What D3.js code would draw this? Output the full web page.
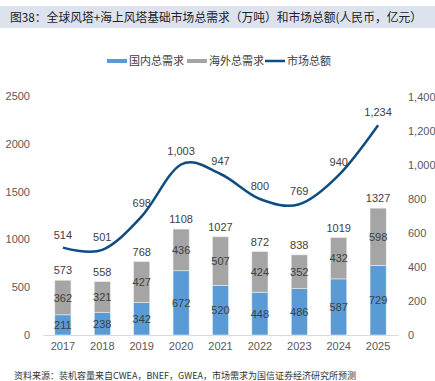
<!DOCTYPE html>
<html><head><meta charset="utf-8">
<script src="https://cdn.jsdelivr.net/npm/d3@7"></script>
<style>body{margin:0;background:#fff;}svg{display:block;font-family:"Noto Sans CJK SC","Liberation Sans",Arial,sans-serif;}</style>
</head><body>
<script>
const years = ["2017","2018","2019","2020","2021","2022","2023","2024","2025"];
const domestic = [211,238,342,672,520,448,486,587,729];
const overseas = [362,321,427,436,507,424,352,432,598];
const totals = [573,558,768,1108,1027,872,838,1019,1327];
const market = [514,501,698,1003,947,800,769,940,1234];
const leftTicks = [0,500,1000,1500,2000,2500];
const rightTicks = [0,200,400,600,800,1000,1200,1400];

const W=435,H=381;
const svg=d3.select("body").append("svg").attr("width",W).attr("height",H);
svg.append("rect").attr("x",0).attr("y",6).attr("width",W).attr("height",22).attr("fill","#dce3ef");
svg.append("text").attr("x",10).attr("y",22).attr("font-size",12).attr("fill","#222")
  .attr("textLength",412).attr("lengthAdjust","spacingAndGlyphs")
  .text("图38：全球风塔+海上风塔基础市场总需求（万吨）和市场总额(人民币，亿元）");

const x=d3.scaleBand().domain(years).range([43,398]).paddingInner(0.59).paddingOuter(0.3);
const yL=d3.scaleLinear().domain([0,2500]).range([335,96]);
const yR=d3.scaleLinear().domain([0,1400]).range([335,97]);
const axisCol="#595959";

// axes
const gl=svg.append("g").attr("transform","translate(32,0)").call(d3.axisLeft(yL).tickValues(leftTicks).tickSize(0).tickPadding(2).tickFormat(d3.format("d")));
const gr=svg.append("g").attr("transform","translate(406,0)").call(d3.axisRight(yR).tickValues(rightTicks).tickSize(0).tickPadding(2).tickFormat(d3.format(",")));
const gx=svg.append("g").attr("transform","translate(0,335)").call(d3.axisBottom(x).tickSize(0).tickPadding(7));
[gl,gr].forEach(g=>g.select(".domain").remove());
gx.select(".domain").attr("stroke","#d9d9d9").attr("stroke-width",1);
svg.selectAll(".tick text").attr("fill",axisCol).attr("font-size",11).attr("font-family","Liberation Sans, Arial, sans-serif");

// bars
const bw=x.bandwidth();
years.forEach((yr,i)=>{
  const x0=x(yr);
  svg.append("rect").attr("x",x0).attr("width",bw).attr("y",yL(domestic[i])).attr("height",yL(0)-yL(domestic[i]))
    .attr("fill","#5b9bd5").attr("stroke","#e6eef8").attr("stroke-width",0.6);
  svg.append("rect").attr("x",x0).attr("width",bw).attr("y",yL(totals[i])).attr("height",yL(domestic[i])-yL(totals[i]))
    .attr("fill","#a5a5a5").attr("stroke","#ececec").attr("stroke-width",0.6);
});
const lab=svg.append("g").attr("font-family","Liberation Sans, Arial, sans-serif").attr("font-size",11).attr("fill","#404040").attr("text-anchor","middle");
years.forEach((yr,i)=>{
  const cx=x(yr)+bw/2;
  lab.append("text").attr("x",cx).attr("y",(yL(0)+yL(domestic[i]))/2+4).text(domestic[i]);
  lab.append("text").attr("x",cx).attr("y",(yL(domestic[i])+yL(totals[i]))/2+4).text(overseas[i]);
  lab.append("text").attr("x",cx).attr("y",yL(totals[i])-6).text(totals[i]);
});

// line
const line=d3.line().x((d,i)=>x(years[i])+bw/2).y(d=>yR(d)).curve(d3.curveCardinal.tension(0));
svg.append("path").datum(market).attr("d",line).attr("fill","none").attr("stroke","#0f4c81").attr("stroke-width",2.5);
market.forEach((v,i)=>{
  lab.append("text").attr("x",x(years[i])+bw/2).attr("y",yR(v)-9).text(d3.format(",")(v));
});

// legend
const lg=svg.append("g").attr("font-size",11).attr("fill","#404040");
lg.append("rect").attr("x",107).attr("y",59).attr("width",20).attr("height",4).attr("fill","#5b9bd5");
lg.append("text").attr("x",129).attr("y",65).attr("fill","#404040").text("国内总需求");
lg.append("rect").attr("x",187).attr("y",59).attr("width",20).attr("height",4).attr("fill","#a5a5a5");
lg.append("text").attr("x",209).attr("y",65).attr("fill","#404040").text("海外总需求");
lg.append("line").attr("x1",265).attr("x2",285).attr("y1",61).attr("y2",61).attr("stroke","#0f4c81").attr("stroke-width",2.5);
lg.append("text").attr("x",287).attr("y",65).attr("fill","#404040").text("市场总额");

svg.append("text").attr("x",14).attr("y",379).attr("font-size",9).attr("fill","#333")
  .text("资料来源：装机容量来自CWEA，BNEF，GWEA，市场需求为国信证券经济研究所预测");
</script>
</body></html>
